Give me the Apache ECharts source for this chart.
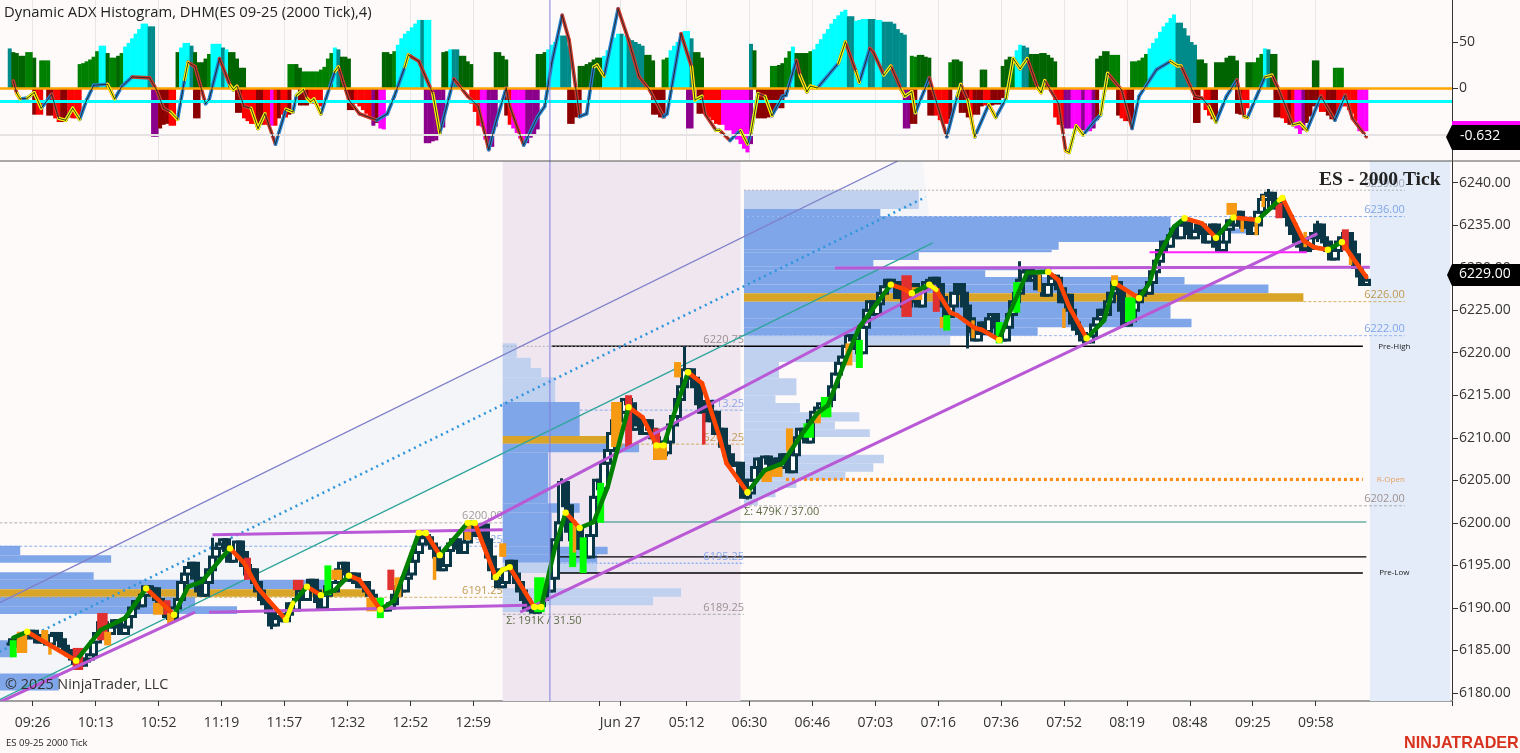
<!DOCTYPE html>
<html><head><meta charset="utf-8">
<style>html,body{margin:0;padding:0;background:#fffafa}#c{width:1520px;height:753px}</style>
<script src="https://cdn.jsdelivr.net/npm/echarts@6/dist/echarts.min.js"></script>
</head><body><div id="c"></div>
<script>
const SLOTS = 416;
const tickSlots = [10,28,46,64,82,100,118,136,172,178,197,215,233,251,269,287,305,323,341,359,377];
const tickLabels = ['09:26','10:13','10:52','11:19','11:57','12:32','12:52','12:59','','Jun 27','05:12','06:30','06:46','07:03','07:16','07:36','07:52','08:19','08:48','09:25','09:58'];
const priceTicks = [6180,6185,6190,6195,6200,6205,6210,6215,6220,6225,6230,6235,6240];
const adxTicks = [0,50];

const histColors = {T:'#008b8b',D:'#006400',G:'#008000',C:'#00ffff',R:'#ff0000',M:'#8b0000',P:'#8b008b',F:'#ff00ff'};
const histUpRuns = [
[3,'TDDDDGGD',[43,39,38,35,35,39,39,33]],
[12,'GGG',[30,30,30]],
[23,'GGGGGGCCDGGDGCCCCCCCTT',[26,27,29,31,34,40,46,46,38,33,33,35,38,45,49,54,59,64,70,70,67,67]],
[51,'DCCCTDDDDGCCCTCDDDDD',[39,44,49,49,46,39,28,28,32,37,48,48,48,44,42,39,39,32,22,22]],
[83,'GGDDGGGGGGGGGCTDDD',[26,26,26,22,18,18,18,18,18,20,23,32,38,44,42,34,34,32]],
[110,'DDDGCCCCCCCTCC',[39,39,37,40,47,54,59,62,66,70,74,74,74,74]],
[127,'DDCTTDDDD',[39,40,42,42,42,35,35,29,26]],
[142,'DDDD',[39,39,35,31]],
[154,'DDDCCCCTTT',[37,37,39,42,47,50,57,57,57,46]],
[166,'DDDDDDDCCCCCTCTTTTTDDD',[24,24,26,28,31,33,33,35,41,47,55,59,59,57,54,52,50,48,46,36,36,30]],
[190,'GGCCCCCCTDDD',[31,33,41,46,50,58,62,62,54,39,39,33]],
[215,'TD',[48,41]],
[221,'GGDDGGCDDDDGCCCCCCCCCCTTCCCCTTCCTTTTTTT',[24,24,25,27,33,40,45,38,38,38,38,40,42,48,53,59,64,70,75,79,83,85,78,78,73,74,75,75,75,75,74,74,72,72,72,70,64,60,58]],
[261,'GGDDDD',[35,34,36,36,34,33]],
[272,'GDDD',[28,31,31,29]],
[281,'DD',[20,20]],
[287,'DDDGCCTTDDDDDDDD',[24,31,34,33,41,47,46,44,37,37,37,38,38,36,33,29]],
[314,'DDDDGGG',[32,35,40,40,36,36,36]],
[324,'GGGGGCCCCCCCCTTTTTTDDD',[29,29,30,33,37,43,49,54,61,67,71,76,80,71,71,65,57,50,47,31,31,27]],
[348,'DDDDDDD',[28,28,28,33,35,35,30]],
[357,'DDGGGCTDD',[28,28,28,33,37,43,42,37,37]],
[376,'DD',[30,30]],
[382,'GGG',[22,22,22]]
];
const histDownRuns = [
[10,'MRR',[-29,-29,-29]],
[14,'MMRRMMRRRR',[-30,-30,-33,-37,-37,-35,-32,-33,-33,-30]],
[44,'PPMMMRR',[-53,-53,-44,-40,-39,-41,-41]],
[56,'MM',[-33,-33]],
[68,'MMRRRRMMRRFRMRRM',[-27,-27,-33,-36,-39,-39,-40,-40,-40,-40,-41,-41,-33,-29,-32,-29]],
[86,'MMMRRRR',[-19,-19,-19,-16,-17,-17,-20]],
[100,'MMRRRRRPMFF',[-24,-24,-17,-20,-24,-28,-32,-41,-38,-44,-45]],
[122,'PPPPPP',[-60,-60,-58,-57,-50,-43]],
[135,'RRRFFPPP',[-17,-26,-41,-42,-56,-67,-64,-42]],
[145,'MRFFFFPPPP',[-30,-40,-44,-49,-55,-60,-60,-54,-50,-45]],
[163,'MMMM',[-39,-39,-32,-32]],
[187,'MMMM',[-29,-29,-32,-33]],
[197,'PP',[-44,-44]],
[200,'MMRRRRRFFFFFFFFP',[-28,-28,-29,-32,-35,-39,-40,-40,-46,-46,-50,-56,-61,-66,-70,-61]],
[217,'MMMMMM',[-33,-33,-33,-32,-31,-24]],
[223,'MM',[-22,-22]],
[259,'PPMM',[-44,-44,-39,-39]],
[266,'MMRRRRM',[-30,-30,-30,-35,-39,-39,-34]],
[275,'MMMRMMMRRMMMM',[-27,-27,-32,-33,-29,-29,-20,-19,-21,-19,-18,-18,-11]],
[302,'RRRPPFFFPFFPM',[-32,-40,-40,-44,-44,-44,-44,-44,-46,-47,-47,-44,-35]],
[320,'MRRMM',[-30,-33,-36,-36,-36]],
[342,'MM',[-38,-38]],
[345,'RRMM',[-24,-30,-34,-32]],
[354,'MMRR',[-28,-29,-29,-22]],
[365,'MMRRMRFFPMMMMRRMMMRRRRRRFFF',[-32,-32,-33,-38,-40,-41,-44,-51,-46,-38,-31,-20,-20,-26,-26,-30,-34,-35,-24,-20,-20,-24,-28,-36,-47,-47,-47]]
];
const adxVertices = [
[4,7.6],[5,-5.8],[6,-12],[8,-11],[10,-5],[12,-22],[15,-7],[17,-33],[19,-35],[21,-22],[23,-34],[25,-13],[27,3],[31,4],[33,-12],[35,1.5],[38,12],[43,11],[45,-2],[47,-22],[49,-26],[51,-34],[53,9],[54,28],[56,23],[59,-17],[60,-13],[63,32],[66,3],[67,-2],[68,2],[69,-9],[70,-20],[72,-22],[74,-44],[76,-28],[79,-61],[82,-23],[84,-26],[85,-8],[87,-1.5],[88,-11],[89,-15],[90,-12],[92,-28],[96,18],[97,23],[100,-13],
[103,-28],[108,-35],[111,-28],[113,-9],[116,23],[117,36],[120,29],[124,-6],[126,-49],[130,10],[134,-9],[137,-20],[140,-67],[142,-38],[145,0],[146,-20],[150,-62],[154,-31],[156,-20],[158,27],[161,79],[163,52],[166,-31],[168,-28],[170,23],[171,25],[173,13],[177,86],[180,52],[183,12],[186,-2],[190,-31],[191,-28],[195,59],[198,23],[199,-13],[201,-9],
[202,-29],[205,-46],[206,-46],[209,-57],[212,-46],[214,-61],[215,-49],[217,-6],[219,-9],[221,-30],[224,-9],[225,-8],[228,30],[229,14],[231,-4],[232,2],[234,0],[236,9],[240,27],[242,50],[245,18],[246,6],[249,43],[250,39],[253,14],[255,24],[258,-2],[259,-9],[261,-4],[262,-27],[266,11],[267,-2],[271,-53],[274,-9],[275,4],[277,-13],[279,-53],[283,-18],[285,-32],[288,-11],[290,32],[292,21],[294,32],[297,0],[298,-5],
[299,8],[303,-17],[305,-68],[306,-70],[308,-41],[310,-51],[313,-37],[315,-29],[317,16],[321,-2],[324,-44],[326,-9],[331,20],[335,29],[337,24],[338,24],[342,-9],[344,-11],[346,-20],[348,-37],[351,-9],[354,9],[356,-31],[357,-32],[362,12],[364,14],[366,-2],[370,-40],[372,-38],[374,-46],[378,-9],[382,-35],[385,-8],[387,-33],[391,-53]
];
const maVertices = [
[4,6186.5],[8,6187.2],[22,6183.8],[29,6187.4],[36,6188.8],[42,6192.3],[50,6189.2],[54,6192.5],[58,6193.1],[63,6195.6],[66,6197],[70,6195.3],[74,6192.3],[77,6190.9],[82,6188.6],[84,6190.6],[88,6192.5],[92,6191.5],[96,6192.1],[100,6193.8],[103,6193.3],[109,6189.8],[113,6190.9],[120,6198.8],[122,6198.8],[126,6196.2],[134,6200],[136,6200],[142,6193.6],[144,6194.5],[146,6194.8],[153,6190.1],[155,6190.1],[159,6197.2],[162,6201.2],[166,6199.4],[170,6200.1],[174,6204.2],[180,6213.6],[184,6212.4],[188,6209.1],[190,6209.1],[197,6217.7],[201,6216.4],[206,6210.1],[208,6207],[214,6203.6],[219,6206.2],[224,6207],[229,6210.1],[234,6212.9],[237,6213.8],[242,6219.1],[246,6223],[255,6228],[258,6227.6],[261,6227],[266,6228],[268,6227.4],[272,6224.7],[274,6224.4],[279,6222.9],[281,6222.7],[286,6221.5],[289,6224.7],[294,6229.4],[300,6229.5],[303,6228.5],[306,6225.4],[311,6221.7],[316,6223.8],[319,6228.2],[326,6226.4],[329,6228.2],[331,6230.9],[336,6234.8],[339,6235.8],[344,6235.2],[348,6233.5],[353,6235.9],[360,6235.6],[366,6237.9],[367,6238.2],[373,6233.2],[376,6232.4],[380,6232.1],[384,6233],[387,6231.2],[391,6228.9]
];
const firstCloseSlot = 3;
const closes = [
6185.75,6186.25,6185.5,6186.5,6187,6186.5,6187.25,6186.5,6186,6186.75,
6186,6185.75,6186.75,6187,6186.25,6185.5,6185,6184.5,6184,6183.5,
6183.25,6183.75,6184,6184.5,6186,6187,6188.25,6187.5,6187,6187.75,
6188.5,6188,6187,6187.75,6189,6190,6190.75,6190.25,6191.5,6192.5,
6192,6192.25,6191,6190.5,6190,6189,6188.75,6190,6191,6193,
6194,6194.75,6195.25,6193.5,6192,6191.5,6193,6194.5,6196,6197,
6197.5,6198,6196.75,6195.5,6196.5,6197.75,6196.5,6195,6194,6194.5,
6193,6192,6191,6190.5,6189.5,6188,6188.75,6189,6188.5,6189.25,
6190.5,6189.75,6191,6192,6191,6192.5,6193.25,6192,6190.75,6190,
6191.5,6192.5,6192,6193,6194.5,6195.25,6194,6193.25,6194,6193,
6192.5,6193,6192,6191.5,6190.5,6190,6190,6189.75,6190,6190.5,
6191.5,6192.5,6192,6193.5,6194,6195.5,6196.5,6197.5,6198.5,6198.25,
6197.5,6197,6196,6194.5,6195,6196.75,6197.5,6198,6197,6196.5,
6197.75,6199,6199.5,6198.5,6199.25,6199.75,6198,6196,6194.5,6193.5,
6192.5,6193,6194.5,6195.5,6194,6193,6192,6191,6190,6189.75,
6189.5,6190.25,6191,6192.5,6192,6193.5,6198,6200,6204.75,6202,
6199,6198,6199.5,6197,6198,6196,6198.5,6203,6205,6204,
6207,6208.5,6210.5,6212,6214,6213,6214.5,6214,6211,6212.5,
6211.5,6210.5,6212,6211,6210,6209.5,6208,6208.25,6209.5,6211.5,
6212.5,6214.5,6216,6218,6218,6217,6216,6214,6213,6214.25,
6212,6213,6210.5,6211,6209,6208,6207,6206.75,6207,6205,
6203,6203.5,6205,6206.5,6207.5,6206,6207.75,6207,6206,6207.5,
6206.5,6208,6207,6206,6208,6210,6211,6210,6209.5,6212,
6213,6213.5,6214,6213.75,6214.5,6216,6217.5,6218.75,6219.5,6220.75,
6222,6221.5,6220.5,6220,6223,6225,6226,6224.5,6225.75,6227,
6227.75,6228.5,6228,6228.25,6226.5,6227,6225.5,6226.5,6228,6226,
6225.5,6227.5,6228.25,6228.5,6228.75,6228,6226.5,6225.5,6224.25,6225.5,
6227,6228,6227,6225.5,6224,6222.5,6221.5,6222.25,6223.5,6222.5,
6224,6224.5,6223,6222,6221.5,6223,6224.5,6226,6227,6228.5,
6229.5,6229.75,6228.5,6229,6227.5,6228,6226.75,6228,6229,6228.75,
6227.5,6226,6226.75,6225,6223.5,6222.75,6222.25,6221.5,6221.25,6222,
6223.25,6224,6225,6224.5,6226,6227,6228.25,6227.5,6225,6223.25,
6223.75,6225,6226,6226.75,6227.25,6227,6228.25,6229.5,6230.75,6232,
6233,6232.5,6233.75,6234.5,6233.5,6235,6235.25,6234,6233.5,6234.25,
6235,6234,6233,6234,6235,6232.5,6232,6233,6234.5,6235.5,
6235,6236.5,6235,6234.75,6235.75,6234,6235,6236.5,6238,6238.5,
6238.75,6238,6237,6237.5,6236.5,6236,6235,6234,6233,6232.5,
6232,6232.25,6233.5,6234,6235,6233.5,6233,6232,6231,6232,
6233,6233.5,6234,6233,6231.5,6230,6229,6228,6228.5
];
const candleWicks = [[61,6197,6198.25],[78,6187.5,6188.75],[161,6202,6205.25],[196,6217,6220.75],[214,6202.75,6203.5],[277,6220.5,6224],[292,6227,6230.75],[363,6237,6239.25],[377,6233,6235.5]];
const highlightColors = {o:'#f59a12',r:'#e03030',l:'#00ff00'};
const highlights = [
[3,5,6184.2,6186.2,'l'],[5,8,6184.7,6187.2,'o'],[12,14,6185.9,6187.4,'o'],[14,15,6184.5,6185.9,'o'],[21,24,6182.7,6185.3,'r'],[28,31,6186.2,6189.4,'r'],[30,32,6185.6,6187.2,'o'],[44,47,6189.2,6190.6,'o'],[47,49,6189.2,6190.9,'r'],[48,50,6188.2,6189.4,'o'],[70,72,6193.3,6195.9,'r'],[84,87,6192.1,6193.3,'r'],[93,95,6191.5,6195,'l'],[95,98,6193.3,6194.5,'o'],[105,108,6189.6,6191.2,'o'],[108,110,6188.8,6191.2,'l'],[111,113,6192.1,6194.5,'r'],[113,115,6191.3,6193.6,'o'],[124,125,6193.3,6196,'o'],[133,135,6198,6199.7,'o'],[143,145,6196,6197.6,'o'],[153,156,6189.5,6193.6,'l'],[163,165,6194.8,6200,'l'],[164,165,6196.5,6200.3,'o'],[166,168,6194.1,6198.3,'l'],[171,173,6200,6204.7,'l'],[175,178,6208.9,6214.2,'o'],[179,181,6208.9,6215,'r'],[187,189,6207.4,6211.1,'r'],[187,191,6207.4,6209.4,'o'],[193,195,6217.1,6218.9,'o'],[201,202,6209.2,6212.9,'r'],[218,221,6204.8,6206.2,'o'],[221,224,6205.4,6206.6,'o'],[225,227,6208.4,6211.1,'o'],[230,233,6210,6211.7,'l'],[233,235,6211.7,6212.9,'o'],[235,238,6212.4,6214.8,'l'],[242,244,6218.5,6221.1,'o'],[245,247,6218.2,6221.5,'l'],[258,261,6224.2,6229.1,'r'],[261,264,6226.2,6227.7,'o'],[267,269,6224.8,6227.6,'r'],[269,271,6222.9,6224.2,'o'],[270,272,6222.6,6224.4,'l'],[278,279,6221.7,6223.8,'o'],[285,287,6221.1,6223.6,'l'],[290,292,6224.7,6228.3,'l'],[297,298,6227.1,6229.2,'o'],[304,305,6222.9,6225.2,'o'],[318,320,6228.2,6229.1,'o'],[322,323,6223.6,6225.6,'o'],[322,325,6223.6,6226.5,'l'],[351,354,6236.2,6237.6,'o'],[355,356,6234.2,6235.9,'o'],[359,360,6233.8,6235.6,'o'],[361,362,6237.1,6238.5,'o'],[365,367,6235.8,6237.6,'r'],[373,374,6232.4,6234.2,'o'],[384,386,6232,6234.5,'r'],[386,387,6230.3,6231.7,'o']
];
const profileColors = {L:'#c0d0ef',D:'#7fa6e8',G:'#d9a528'};
const profileA = [[6196.2,6197.3,6,'D'],[6195.3,6196.2,32,'D'],[6193.3,6194.2,27,'D'],[6192.2,6193.3,94,'D'],[6191.3,6192.2,105,'G'],[6190.2,6191.3,56,'D'],[6189.3,6190.2,68,'D'],[6184.2,6186.2,4,'D'],[6180.3,6182.3,17,'D']];
const profileB = [[6219.4,6221.1,148,'L'],[6218.2,6219.4,152,'L'],[6217.1,6218.2,155,'L'],[6214.2,6217.1,159,'L'],[6210.2,6214.2,166,'D'],[6209.3,6210.2,175,'G'],[6208.3,6209.3,183,'D'],[6202.3,6208.3,157,'D'],[6201.2,6202.3,166,'D'],[6197.2,6201.2,158,'D'],[6196.3,6197.2,174,'D'],[6195.3,6196.3,171,'D'],[6194.1,6195.3,171,'L'],[6191.3,6192.3,195,'L'],[6190.3,6191.3,187,'L'],[6189.5,6190.3,152,'L']];
const profileC = [[6239.1,6239.9,213,'L'],[6236.9,6239.1,263,'L'],[6236,6236.9,252,'D'],[6233,6236,335,'D'],[6234,6234.6,359,'D'],[6232.1,6233,303,'D'],[6231.8,6232.1,301,'D'],[6230.9,6231.8,263,'D'],[6230.1,6230.9,250,'D'],[6229.7,6230.1,301,'D'],[6228.9,6229.7,282,'D'],[6228,6228.9,339,'D'],[6227,6228,363,'D'],[6226,6227,373,'G'],[6224,6226,335,'D'],[6223,6224,341,'D'],[6222,6223,297,'D'],[6220.9,6222,272,'L'],[6218.9,6220.9,246,'L'],[6217,6218.9,223,'L'],[6215,6217,228,'L'],[6214.1,6215,222,'L'],[6213,6214.1,229,'L'],[6211.9,6213,246,'L'],[6211,6211.9,239,'L'],[6210.1,6211,249,'L'],[6208,6210.1,229,'L'],[6207,6208,253,'L'],[6206,6207,250,'L'],[6205,6206,242,'L'],[6204.1,6205,228,'L'],[6203,6204.1,222,'L'],[6202.1,6203,217,'L']];
const channelPoints = [[0,6190.6],[257,6242.53],[264,6242.53],[267,6232.9],[0,6179.2]];
const trendLines = [
[0,6190.6,257,6242.53,'#7f7fc9',1.3,'solid'],
[0,6184.85,265,6238.3,'#2f96dc',2.6,[2,4]],
[0,6179.2,267,6232.9,'#2ea59b',1.3,'solid'],
[0,6178.9,56,6189.5,'#b959d6',3,'solid'],
[61,6198.6,144,6199.2,'#b959d6',3,'solid'],
[136,6199.4,268,6227.9,'#b959d6',3,'solid'],
[60,6189.5,151,6190.3,'#b959d6',3,'solid'],
[149,6189.5,377,6234,'#b959d6',3,'solid'],
[239,6229.95,392,6230.05,'#b959d6',3,'solid'],
[329,6231.8,374,6231.8,'#ff20ff',2,'solid']
];
const levels = [
[158,390,6220.75,'#000000',1.4,'solid'],[158,391,6196,'#000000',1.4,'solid'],[158,390,6194.1,'#000000',1.4,'solid'],
[172,391,6200.1,'#1f8a7c',1.2,'solid'],[225,390,6205.1,'#ff8c14',3.2,[3,3]],
[0,144,6200,'#9a9a9a',0.8,[3,2]],[0,144,6197.25,'#6f9be8',0.8,[3,2]],[0,144,6191.25,'#c8a040',0.8,[3,2]],
[144,213,6220.75,'#aaaaaa',0.9,[2,2]],[166,213,6213.25,'#6f9be8',0.8,[3,2]],[175,213,6209.25,'#c8a040',0.8,[3,2]],[158,213,6195.25,'#8fb0f0',1.5,[2,2]],[144,213,6189.25,'#9a9a9a',0.8,[3,2]],
[213,402,6239.1,'#b0b0b0',1,[2,2]],[213,402,6236,'#6f9be8',0.8,[3,2]],[373,402,6226,'#c8a040',0.8,[3,2]],[213,402,6222,'#8fb0f0',0.9,[3,2]],[213,402,6202,'#9a9a9a',0.8,[3,2]]
];
const levelLabels = [
[144,6200,'6200.00','#9c9c9c'],[144,6197.25,'6197.25','#8aa8e8'],[144,6191.25,'6191.25','#c09a50'],
[213,6220.75,'6220.75','#9c9090'],[213,6213.25,'6213.25','#8aa8e8'],[213,6209.25,'6209.25','#c09a50'],[213,6195.25,'6195.25','#8aa8e8'],[213,6189.25,'6189.25','#9c9090'],
[402,6239.1,'6239.00','#a0a8b8'],[402,6236,'6236.00','#7fa6e8'],[402,6226,'6226.00','#c09a50'],[402,6222,'6222.00','#7fa6e8'],[402,6202,'6202.00','#9c9090']
];
const smallTags = [[399,6220.75,'Pre-High','#222222'],[399,6194.1,'Pre-Low','#222222'],[398,6205.1,'R-Open','#e8a060']];
const sumLabels = [[145,6188.5,'Σ: 191K / 31.50'],[213,6201.3,'Σ: 479K / 37.00']];
const sessionBands = [[144,212,'#efe6ef'],[392,415,'#e4ecf9']];
const CROSSHAIR_SLOT = 158;
const PRICE_MIN = 6179.06, PRICE_MAX = 6242.53, ADX_MIN = -79.35, ADX_MAX = 95.65;
const FONT = '"Open Sans","Noto Sans",sans-serif';

const categories = Array.from({length:SLOTS},(_,i)=>{const k=tickSlots.indexOf(i);return k>=0?tickLabels[k]:'';});
const isTick = i => tickSlots.indexOf(i) >= 0;
function expandRuns(runs){
  const out = new Array(SLOTS).fill(null);
  runs.forEach(([s,codes,vals])=>vals.forEach((v,i)=>{out[s+i]={value:v,itemStyle:{color:histColors[codes[i]]}};}));
  return out;
}
const candleData = new Array(SLOTS).fill('-');
closes.forEach((c,i)=>{
  const o = i===0 ? c : closes[i-1];
  candleData[firstCloseSlot+i] = [o,c,Math.min(o,c),Math.max(o,c)];
});
candleWicks.forEach(([s,lo,hi])=>{const d=candleData[s];d[2]=Math.min(d[2],lo);d[3]=Math.max(d[3],hi);});

function rectSeries(name,rows,toRect,z){
  return {type:'custom',name,xAxisIndex:1,yAxisIndex:1,z,silent:true,clip:true,animation:false,
    data:rows.map((r,i)=>[i,PRICE_MIN]),encode:{x:0,y:1},
    renderItem:(p,api)=>{
      const [x0,x1,p0,p1,fill]=toRect(rows[p.dataIndex]);
      const a=api.coord([x0,p1]),b=api.coord([x1,p0]);
      return {type:'rect',shape:{x:a[0],y:a[1],width:b[0]-a[0],height:b[1]-a[1]},style:{fill}};
    }};
}
function lineRows(name,rows,toLine,z){
  return {type:'custom',name,xAxisIndex:1,yAxisIndex:1,z,silent:true,clip:true,animation:false,
    data:rows.map((r,i)=>[i,PRICE_MIN]),encode:{x:0,y:1},
    renderItem:(p,api)=>{
      const [s0,p0,s1,p1,color,w,dash]=toLine(rows[p.dataIndex]);
      const a=api.coord([s0,p0]),b=api.coord([s1,p1]);
      return {type:'line',shape:{x1:a[0],y1:a[1],x2:b[0],y2:b[1]},style:{stroke:color,lineWidth:w,lineDash:dash==='solid'?null:dash,fill:null}};
    }};
}
function textRows(name,rows,fn,z){
  return {type:'custom',name,xAxisIndex:1,yAxisIndex:1,z,silent:true,clip:false,animation:false,
    data:rows.map((r,i)=>[i,PRICE_MIN]),encode:{x:0,y:1},
    renderItem:(p,api)=>{
      const f=fn(rows[p.dataIndex]);
      const a=api.coord([f.slot,f.price]);
      return {type:'text',x:a[0],y:a[1]-(f.lift||0),style:{text:f.text,fill:f.color,font:f.size+'px '+FONT,textAlign:f.align,textVerticalAlign:f.valign}};
    }};
}
function segmentSeries(name,verts,ax,colorOf,width,z){
  return {type:'custom',name,xAxisIndex:ax,yAxisIndex:ax,z,silent:true,clip:true,animation:false,
    data:verts.map(v=>[v[0],v[1]]),encode:{x:0,y:1},
    renderItem:(p,api)=>{
      const i=p.dataIndex; if(i>=verts.length-1) return null;
      const c=colorOf(i); if(!c) return null;
      const a=api.coord(verts[i]),b=api.coord(verts[i+1]);
      return {type:'line',shape:{x1:a[0],y1:a[1],x2:b[0],y2:b[1]},style:{stroke:c,lineWidth:width,lineCap:'round',fill:null}};
    }};
}
function extremaDots(name,verts,ax,r,z){
  return {type:'custom',name,xAxisIndex:ax,yAxisIndex:ax,z,silent:true,clip:true,animation:false,
    data:verts.map(v=>[v[0],v[1]]),encode:{x:0,y:1},
    renderItem:(p,api)=>{
      const i=p.dataIndex; if(!isExt(verts,i)) return null;
      const a=api.coord(verts[i]);
      return {type:'circle',shape:{cx:a[0],cy:a[1],r},style:{fill:'#ffff00'}};
    }};
}
const dir = (v,i)=>v[i+1][1]-v[i][1];
const isExt = (v,i)=> i>0 && i<v.length-1 && (v[i][1]-v[i-1][1])*(v[i+1][1]-v[i][1])<=0;
const adx=adxVertices, ma=maVertices;
const adxLeadIn = i => adx[i+1][0]-adx[i][0]<=2 && isExt(adx,i+1);
const maShort = i => ma[i+1][0]-ma[i][0]<=2 && (isExt(ma,i)||isExt(ma,i+1));

const series = [
 {type:'bar',name:'ADX up',xAxisIndex:0,yAxisIndex:0,data:expandRuns(histUpRuns),barWidth:4,barGap:'-100%',z:2,silent:true,animation:false,
  markLine:{silent:true,symbol:'none',label:{show:false},animation:false,data:[
   {yAxis:0,lineStyle:{color:'#ffa500',width:2.5,type:'solid'}},
   {yAxis:-14,lineStyle:{color:'#00ffff',width:3,type:'solid'}},
   {yAxis:-51,lineStyle:{color:'#e4e2e2',width:2,type:'solid'}}]}},
 {type:'bar',name:'ADX down',xAxisIndex:0,yAxisIndex:0,data:expandRuns(histDownRuns),barWidth:4,barGap:'-100%',z:2,silent:true,animation:false},
 segmentSeries('ADX colour',adx,0,i=>dir(adx,i)>=0?'#2583cf':'#cc3b2e',3.6,4),
 segmentSeries('ADX turn',adx,0,i=>adxLeadIn(i)?'#ffff00':null,3.2,5),
 segmentSeries('ADX core',adx,0,i=>'#222222',0.9,6),
 {type:'custom',name:'channel',xAxisIndex:1,yAxisIndex:1,z:1,silent:true,clip:true,animation:false,
  data:[[0,PRICE_MIN]],encode:{x:0,y:1},
  renderItem:(p,api)=>({type:'polygon',shape:{points:channelPoints.map(q=>api.coord(q))},style:{fill:'#f3f5f8'}})},
 rectSeries('session',sessionBands,r=>[r[0],r[1],PRICE_MIN,PRICE_MAX,r[2]],2),
 rectSeries('profile A',profileA,r=>[0,r[2],r[0],r[1],profileColors[r[3]]],3),
 rectSeries('profile B',profileB,r=>[144,r[2],r[0],r[1],profileColors[r[3]]],3),
 rectSeries('profile C',profileC,r=>[213,r[2],r[0],r[1],profileColors[r[3]]],3),
 lineRows('levels',levels,r=>[r[0],r[2],r[1],r[2],r[3],r[4],r[5]],4),
 textRows('level labels',levelLabels,r=>({slot:r[0],price:r[1],text:r[2],color:r[3],size:11,align:'right',valign:'bottom',lift:1}),4),
 textRows('tags',smallTags,r=>({slot:r[0],price:r[1],text:r[2],color:r[3],size:8,align:'center',valign:'middle'}),4),
 textRows('sums',sumLabels,r=>({slot:r[0],price:r[1],text:r[2],color:'#5d6b45',size:11,align:'left',valign:'middle'}),4),
 lineRows('channel lines',trendLines.slice(0,3),r=>r,5),
 {type:'candlestick',name:'ES',xAxisIndex:1,yAxisIndex:1,data:candleData,barWidth:7,z:6,silent:true,animation:false,large:false,
  itemStyle:{color:'#ffffff',color0:'#0a3646',borderColor:'#0a3646',borderColor0:'#0a3646',borderWidth:3}},
 rectSeries('highlights',highlights,r=>[r[0],r[1],r[2],r[3],highlightColors[r[4]]],7),
 lineRows('trend lines',trendLines.slice(3),r=>r,8),
 segmentSeries('MA colour',ma,1,i=>dir(ma,i)>=0?'#008000':'#ff4500',4.5,9),
 segmentSeries('MA turn',ma,1,i=>maShort(i)?'#ffff00':null,4.6,10),
 extremaDots('MA dots',ma,1,3.2,10)
];
[0,1].forEach(ax=>series.push({type:'custom',name:'crosshair'+ax,xAxisIndex:ax,yAxisIndex:ax,z:11,silent:true,clip:true,animation:false,
  data:[[CROSSHAIR_SLOT,ax?PRICE_MIN:ADX_MIN]],encode:{x:0,y:1},
  renderItem:(p,api)=>{
    const half=api.size([1,0])[0]/2;
    const a=api.coord([CROSSHAIR_SLOT,ax?PRICE_MAX:ADX_MAX]),b=api.coord([CROSSHAIR_SLOT,ax?PRICE_MIN:ADX_MIN]);
    return {type:'line',shape:{x1:a[0]-half,y1:a[1],x2:a[0]-half,y2:b[1]},style:{stroke:'#7f7fe0',lineWidth:1,fill:null}};
  }}));

const xBase = {type:'category',data:categories,boundaryGap:true};
const option = {
 animation:false,backgroundColor:'#fffafa',textStyle:{fontFamily:FONT},
 grid:[
  {left:-2.5,top:0,width:1454.5,height:161,containLabel:false,outerBoundsMode:'none'},
  {left:-2.5,top:161,width:1454.5,height:540,containLabel:false,outerBoundsMode:'none'}
 ],
 xAxis:[
  {...xBase,gridIndex:0,axisLine:{show:false},axisTick:{show:false},axisLabel:{show:false},
   splitLine:{show:true,interval:isTick,lineStyle:{color:'#e8e6e6',width:1}}},
  {...xBase,gridIndex:1,axisLine:{show:true,onZero:false,lineStyle:{color:'#a0a0a0',width:2}},
   axisTick:{show:true,length:5,interval:isTick,alignWithLabel:false,lineStyle:{color:'#333333'}},
   axisLabel:{show:true,interval:isTick,hideOverlap:false,margin:15,padding:[0,3,0,0],color:'#333333',fontSize:14,fontFamily:FONT},
   splitLine:{show:false}}
 ],
 yAxis:[
  {type:'value',gridIndex:0,position:'right',min:ADX_MIN,max:ADX_MAX,splitLine:{show:false},
   axisLine:{show:true,onZero:false,lineStyle:{color:'#333333'}},
   axisTick:{show:true,length:6,customValues:adxTicks,lineStyle:{color:'#333333'}},
   axisLabel:{show:true,customValues:adxTicks,margin:7,color:'#333333',fontSize:14,fontFamily:FONT}},
  {type:'value',gridIndex:1,position:'right',min:PRICE_MIN,max:PRICE_MAX,splitLine:{show:false},
   axisLine:{show:true,onZero:false,lineStyle:{color:'#333333'}},
   axisTick:{show:true,length:6,customValues:priceTicks,lineStyle:{color:'#333333'}},
   axisLabel:{show:true,customValues:priceTicks,margin:7,color:'#333333',fontSize:14,fontFamily:FONT,formatter:v=>v.toFixed(2)}}
 ],
 series,
 graphic:[
  {type:'line',z:50,shape:{x1:0,y1:161,x2:1520,y2:161},style:{stroke:'#555555',lineWidth:1}},
  {type:'text',z:50,left:4,top:5,style:{text:'Dynamic ADX Histogram, DHM(ES 09-25 (2000 Tick),4)',font:'14.8px '+FONT,fill:'#222222'}},
  {type:'text',z:50,left:1319,top:170,style:{text:'ES - 2000 Tick',font:'bold 19.5px "Liberation Serif",serif',fill:'#222222'}},
  {type:'text',z:50,left:5,top:678,style:{text:'© 2025 NinjaTrader, LLC',font:'14.4px '+FONT,fill:'#333333'}},
  {type:'text',z:50,left:6,top:738,style:{text:'ES 09-25 2000 Tick',font:'9.5px '+FONT,fill:'#222222'}},
  {type:'text',z:50,left:1404,top:736,style:{text:'NINJATRADER',font:'bold 16.2px "Liberation Sans",sans-serif',fill:'#d8321e'}},
  {type:'polygon',z:50,shape:{points:[[1446,137],[1452,125],[1520,125],[1520,150],[1452,150]]},style:{fill:'#000000'}},
  {type:'rect',z:50,shape:{x:1452,y:121,width:68,height:4},style:{fill:'#ff00ff'}},
  {type:'text',z:51,left:1460,top:129,style:{text:'-0.632',font:'14px '+FONT,fill:'#ffffff'}},
  {type:'polygon',z:50,shape:{points:[[1447,275],[1452,264],[1520,264],[1520,286],[1452,286]]},style:{fill:'#000000'}},
  {type:'text',z:51,left:1459,top:267,style:{text:'6229.00',font:'14px '+FONT,fill:'#ffffff'}}
 ]
};
echarts.init(document.getElementById('c'),null,{renderer:'canvas'}).setOption(option);
</script></body></html>
